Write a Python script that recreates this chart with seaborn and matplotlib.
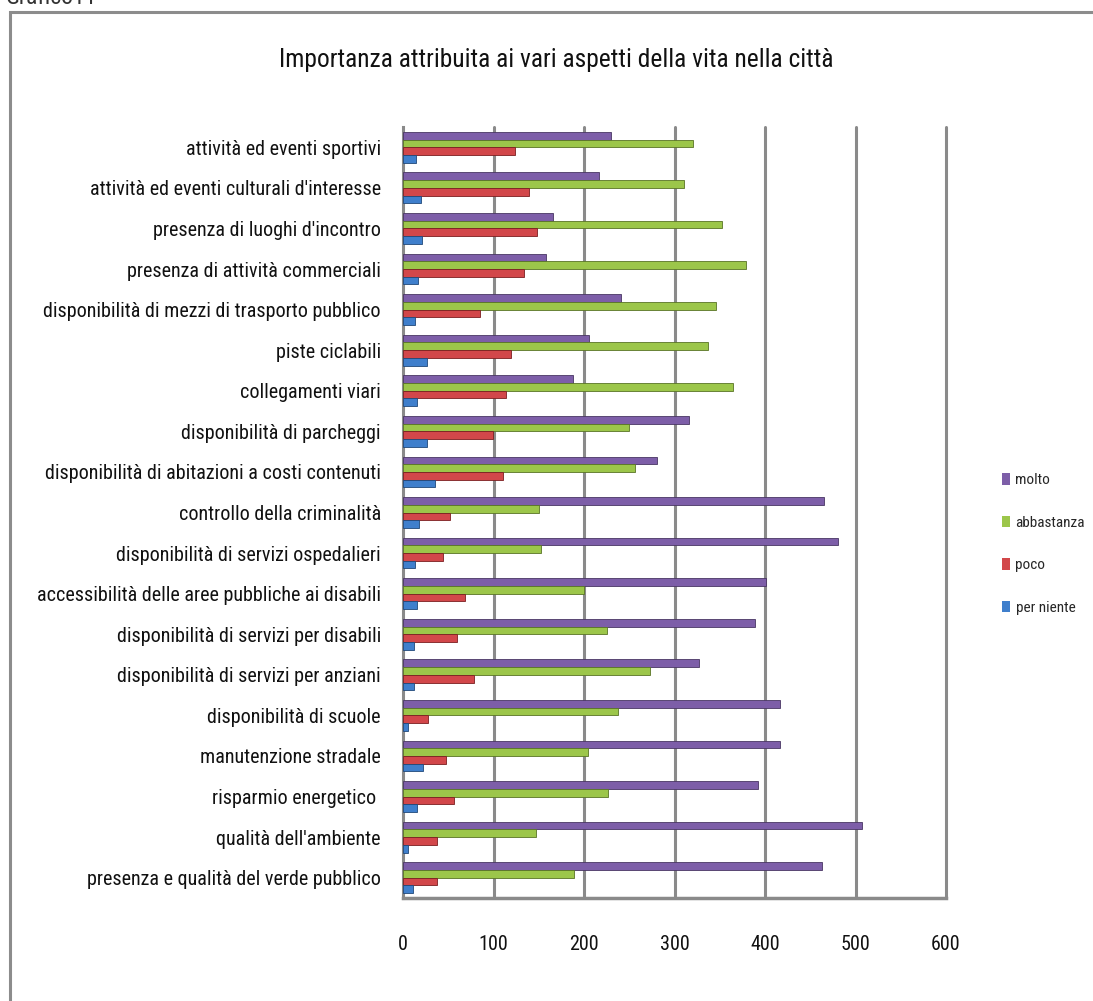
import matplotlib
matplotlib.use("Agg")
import matplotlib.pyplot as plt
import matplotlib.patches as mpatches
from matplotlib import font_manager
import pandas as pd
import seaborn as sns

categories = [
    "attività ed eventi sportivi",
    "attività ed eventi culturali d'interesse",
    "presenza di luoghi d'incontro",
    "presenza di attività commerciali",
    "disponibilità di mezzi di trasporto pubblico",
    "piste ciclabili",
    "collegamenti viari",
    "disponibilità di parcheggi",
    "disponibilità di abitazioni a costi contenuti",
    "controllo della criminalità",
    "disponibilità di servizi ospedalieri",
    "accessibilità delle aree pubbliche ai disabili",
    "disponibilità di servizi per disabili",
    "disponibilità di servizi per anziani",
    "disponibilità di scuole",
    "manutenzione stradale",
    "risparmio energetico ",
    "qualità dell'ambiente",
    "presenza e qualità del verde pubblico",
]

molto = [230, 217, 166, 158, 241, 206, 188, 316, 281, 465, 481, 401, 389, 327, 417, 417, 392, 507, 463]
abbastanza = [320, 310, 353, 379, 346, 337, 365, 250, 256, 150, 152, 200, 225, 273, 238, 204, 227, 147, 189]
poco = [124, 139, 148, 134, 85, 119, 114, 99, 111, 52, 44, 69, 60, 79, 28, 48, 56, 38, 38]
per_niente = [14, 20, 21, 17, 13, 26, 15, 27, 35, 18, 13, 15, 12, 12, 5, 22, 15, 6, 11]

series_names = ["molto", "abbastanza", "poco", "per niente"]
series_colors = ["#7D5EA8", "#9CC64A", "#D2474A", "#3F7FCC"]
x_ticks = [0, 100, 200, 300, 400, 500, 600]
title = "Importanza attribuita ai vari aspetti della vita nella città"

rows = []
for name, vals in zip(series_names, [molto, abbastanza, poco, per_niente]):
    for cat, v in zip(categories, vals):
        rows.append({"aspetto": cat, "risposta": name, "valore": v})
df = pd.DataFrame(rows)

sns.set_theme(style="white")

# pick a narrow face when one is available
available = {f.name for f in font_manager.fontManager.ttflist}
narrow = [n for n in ["Roboto Condensed", "Open Sans Condensed", "Liberation Sans Narrow",
                      "DejaVu Sans Condensed"] if n in available]
if narrow:
    plt.rcParams["font.family"] = [narrow[0], "DejaVu Sans"]
    scale = 1.0
else:
    plt.rcParams["font.family"] = ["Roboto", "DejaVu Sans"]
    scale = 0.86

W, H = 1093, 1001
fig = plt.figure(figsize=(W / 100, H / 100), dpi=100)

# outer chart frame
fig.patches.append(mpatches.Rectangle((10 / W, -0.05), 1.1, 1 - 12 / H + 0.05,
                                      transform=fig.transFigure, fill=False,
                                      edgecolor="#8c8c8c", linewidth=2.2))
fig.text(0.005, 1.002, "Grafico11", ha="left", va="center", fontsize=17 * scale, color="#333333")

ax = fig.add_axes([403 / W, 1 - 898 / H, 543 / W, 771 / H])
sns.barplot(data=df, y="aspetto", x="valore", hue="risposta", order=categories,
            hue_order=series_names, palette=series_colors, orient="h",
            width=0.76, gap=0.0, saturation=1, edgecolor="none", ax=ax, zorder=3)

for bar_container, col in zip(ax.containers, series_colors):
    for patch in bar_container:
        patch.set_edgecolor(sns.set_hls_values(col, l=0.3))
        patch.set_linewidth(0.6)

ax.set_xlim(0, 600)
ax.set_ylim(len(categories) - 0.5, -0.5)
ax.set_xticks(x_ticks)
ax.set_xticklabels([str(t) for t in x_ticks])
ax.set_xlabel("")
ax.set_ylabel("")
ax.tick_params(axis="x", length=0, pad=27, labelsize=14.5 * scale, labelcolor="#111111")
ax.tick_params(axis="y", length=0, pad=16, labelsize=14.5 * scale, labelcolor="#111111")

for t in x_ticks[1:]:
    ax.axvline(t, color="#8a8a8a", linewidth=2.2, zorder=1, clip_on=False)

for side in ["top", "right"]:
    ax.spines[side].set_visible(False)
ax.spines["left"].set_color("#8a8a8a")
ax.spines["left"].set_linewidth(2.2)
ax.spines["bottom"].set_color("#8a8a8a")
ax.spines["bottom"].set_linewidth(2.5)

fig.text(556 / W, 1 - 60 / H, title, ha="center", va="center", fontsize=18.4 * scale, color="#111111")

handles, labels = ax.get_legend_handles_labels()
ax.legend(handles, labels, loc="center left", bbox_to_anchor=(988 / W, 1 - 544 / H),
          bbox_transform=fig.transFigure, frameon=False, fontsize=11 * scale,
          labelspacing=1.85, handlelength=0.55, handleheight=0.8, handletextpad=0.35)

fig.savefig("out.png", dpi=100)
